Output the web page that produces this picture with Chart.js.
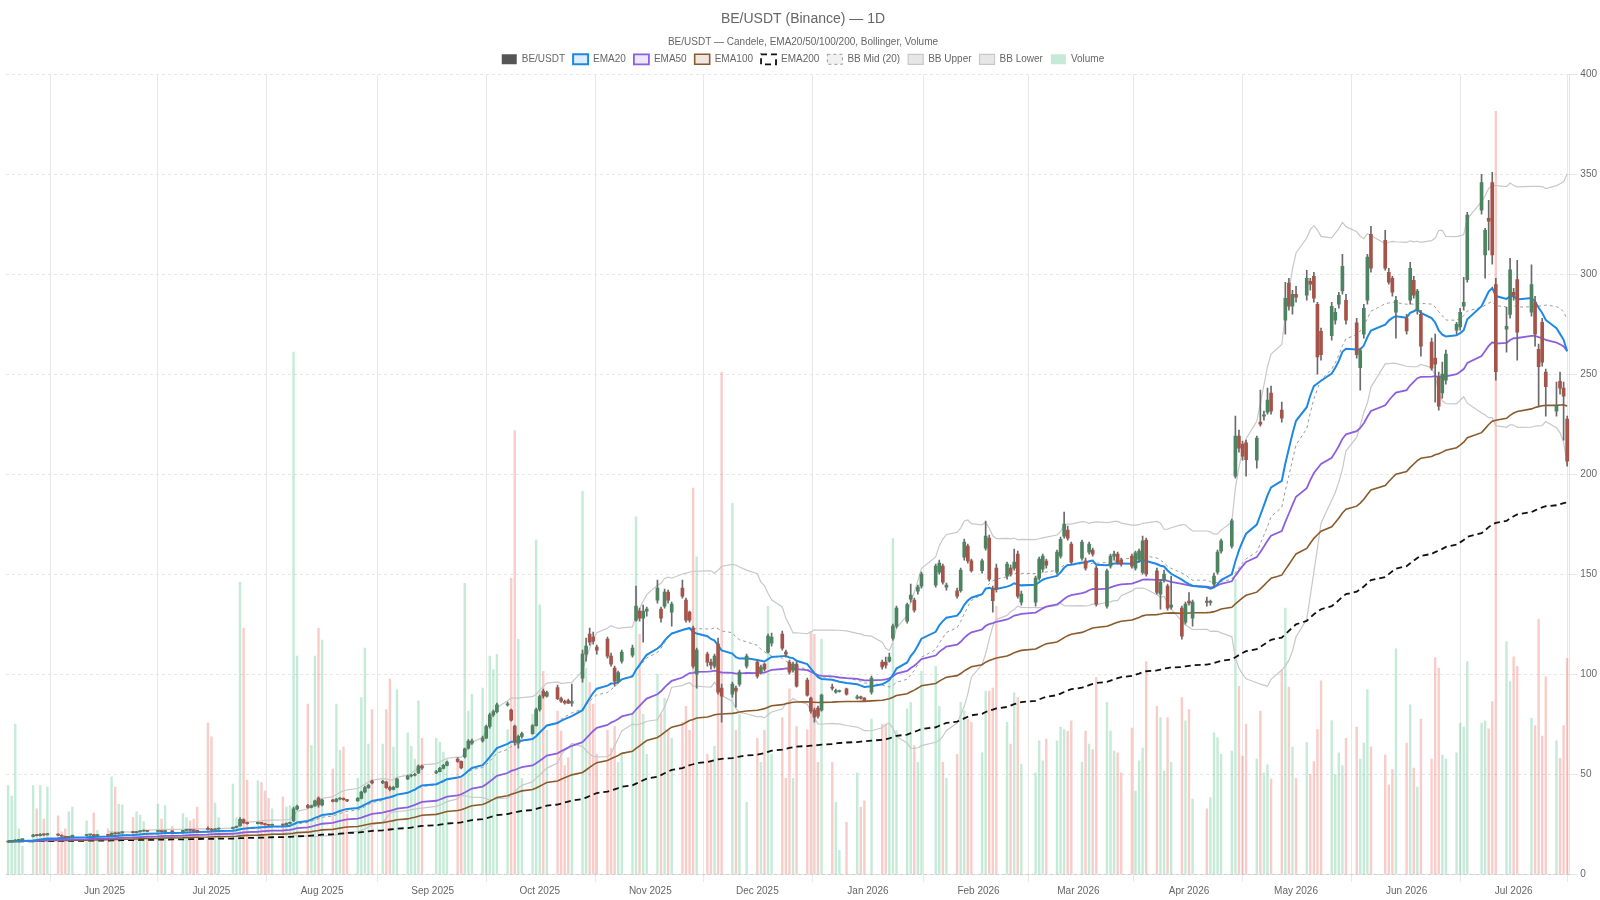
<!DOCTYPE html>
<html>
<head>
<meta charset="utf-8">
<title>BE/USDT (Binance) — 1D</title>
<script src="https://cdn.jsdelivr.net/npm/chart.js@4.4.1/dist/chart.umd.min.js"></script>
<style>
  html, body { margin: 0; padding: 0; background: #fff; }
  #wrap { width: 1600px; height: 900px; }
</style>
</head>
<body>
<div id="wrap"><canvas id="beChart"></canvas></div>
<script>
/* global Chart */
var firstDay = '2025-05-05';
var lastDay = '2026-07-16';
var holidays = ['2025-05-26', '2025-06-19', '2025-07-04', '2025-09-01', '2025-11-27', '2025-12-25',
    '2026-01-01', '2026-01-19', '2026-02-16', '2026-04-03', '2026-05-25', '2026-06-19', '2026-07-03'];
var monthTicks = ['2025-06-01', '2025-07-01', '2025-08-01', '2025-09-01', '2025-10-01', '2025-11-01',
    '2025-12-01', '2026-01-01', '2026-02-01', '2026-03-01', '2026-04-01', '2026-05-01', '2026-06-01', '2026-07-01'];
var monthNames = ['Jan', 'Feb', 'Mar', 'Apr', 'May', 'Jun', 'Jul', 'Aug', 'Sep', 'Oct', 'Nov', 'Dec'];

// one row per trading week
var open = [
    16.0, 16.3, 16.5, 16.9, 17.2,
    18.8, 19.6, 19.2, 19.9, 19.6,
    20.0, 19.4, 18.9, 18.4, 18.7,
    19.3, 19.6, 19.7, 19.2,
    19.5, 19.3, 20.4, 20.1, 20.6,
    21.0, 20.7, 21.1, 21.5, 21.8,
    21.3, 21.7, 21.2, 21.5,
    21.1, 21.8, 22.2, 21.9, 21.7,
    22.6, 22.3, 21.9, 22.5,
    22.8, 23.3, 24.0, 27.2, 25.7,
    25.2, 25.8, 25.1, 24.7, 24.4,
    24.8, 24.5, 25.3, 26.5, 32.6,
    34.2, 33.3, 34.1, 38.0, 34.5,
    37.0, 36.3, 37.5, 37.9, 37.2,
    36.6, 37.8, 41.0, 43.2, 46.5,
    45.6, 46.0, 43.2, 42.3, 43.4,
    47.5, 49.0, 49.4, 50.5, 54.0,
    50.6, 51.2, 52.8, 54.3,
    57.5, 56.3, 58.5, 63.0, 65.5,
    66.6, 68.0, 73.8, 79.6, 81.2,
    84.6, 82.0, 74.0, 65.5, 68.8,
    70.2, 74.2, 82.3, 91.5, 89.0,
    93.2, 87.7, 86.4, 86.8, 85.5,
    98.0, 110.0, 120.0, 118.5, 113.5,
    117.5, 109.0, 103.0, 96.5, 106.5,
    109.5, 127.0, 131.5, 128.0, 131.5,
    137.0, 132.5, 134.0, 141.0, 131.0,
    143.0, 137.0, 131.0, 123.0, 100.0,
    110.0, 106.0, 104.0, 115.0, 93.0,
    90.0, 93.0, 95.0, 104.0,
    106.0, 101.0, 105.0, 111.0, 115.5,
    120.0, 111.0, 106.0, 102.0, 105.0,
    97.0, 88.0, 82.0, 83.0, 82.0,
    93.5, 91.0, 91.3, 92.6,
    88.0, 88.6, 88.0, 91.0,
    106.0, 106.0, 106.5, 118.0, 124.0,
    126.5, 137.5, 137.0, 141.5, 144.0,
    144.5, 151.0, 154.0, 143.5,
    141.7, 141.7, 158.5, 164.0, 156.6,
    151.7, 163.0, 168.0, 142.5, 153.0,
    149.0, 153.0, 153.0, 160.0, 136.0,
    136.0, 148.0, 152.5, 156.5,
    151.0, 159.0, 169.0, 172.0, 165.0,
    158.0, 156.6, 161.0, 162.0, 153.0,
    134.0, 154.0, 159.0, 160.0, 157.0,
    159.0, 153.0, 157.4, 150.8, 167.0,
    151.6, 140.0, 147.0, 144.0, 133.5,
    133.0, 126.0, 136.5, 128.0,
    136.5, 135.8, 145.0, 151.0, 161.5,
    164.0, 199.0, 219.0, 215.0, 215.7,
    207.0, 226.0, 229.0, 231.0, 240.6,
    232.0, 277.0, 295.6, 284.0, 290.0,
    289.5, 296.5, 299.0, 285.0, 271.4,
    269.3, 277.0, 285.0, 291.6, 287.0,
    275.7, 253.3, 270.0, 287.0, 320.0,
    317.0, 301.0, 298.0, 281.0,
    278.0, 287.0, 297.0, 282.0, 280.0,
    266.0, 258.0, 249.0, 240.6, 247.0,
    272.0, 273.6, 284.0, 297.3,
    332.0, 309.7, 328.0, 345.8, 294.8,
    272.5, 279.9, 291.0, 297.3,
    281.0, 286.0, 262.4, 276.0, 251.0,
    231.5, 246.4, 243.0, 227.6
];
var high = [
    16.6, 16.7, 17.2, 17.4, 17.5,
    19.8, 19.9, 20.2, 20.1, 20.4,
    20.1, 19.6, 19.0, 18.9, 19.5,
    19.8, 19.9, 19.8, 19.7,
    19.6, 20.6, 20.7, 20.8, 21.2,
    21.2, 21.3, 21.7, 22.0, 21.9,
    21.9, 21.8, 21.7, 21.6,
    21.9, 22.4, 22.3, 22.0, 21.8,
    23.6, 22.8, 22.7, 23.0,
    23.5, 24.0, 28.2, 27.6, 26.0,
    26.0, 25.9, 25.3, 24.9, 25.0,
    25.0, 25.6, 26.0, 33.5, 34.5,
    34.8, 34.5, 37.0, 38.6, 37.5,
    37.4, 37.9, 38.2, 38.1, 37.4,
    38.2, 41.5, 43.8, 44.8, 47.0,
    46.8, 46.3, 44.0, 43.8, 48.0,
    49.5, 49.8, 50.3, 54.6, 54.5,
    51.8, 53.3, 54.8, 56.5,
    58.2, 56.6, 63.0, 67.2, 67.5,
    69.0, 74.5, 80.5, 82.0, 85.5,
    86.0, 82.5, 74.5, 69.5, 71.0,
    74.8, 83.0, 89.5, 92.5, 91.5,
    94.5, 88.5, 87.0, 87.5, 95.0,
    112.0, 118.0, 123.0, 121.0, 114.5,
    118.5, 110.5, 104.0, 101.5, 112.0,
    114.5, 144.0, 133.0, 134.5, 133.5,
    147.0, 133.5, 142.5, 142.0, 136.0,
    147.0, 138.0, 131.5, 124.0, 113.0,
    111.0, 107.5, 110.0, 118.0, 95.0,
    96.0, 94.0, 102.0, 110.0,
    107.0, 104.5, 105.5, 120.0, 120.5,
    121.5, 112.0, 107.0, 106.0, 106.0,
    98.0, 88.5, 83.0, 84.0, 90.0,
    95.0, 92.5, 92.0, 93.0,
    89.5, 89.0, 88.3, 99.0,
    107.0, 108.5, 110.5, 125.0, 134.0,
    135.5, 145.0, 138.0, 144.5, 151.0,
    155.0, 157.0, 155.0, 145.5,
    143.0, 153.0, 167.5, 165.0, 157.5,
    157.5, 176.5, 169.5, 144.0, 155.0,
    156.0, 154.5, 162.5, 161.5, 141.5,
    149.0, 158.5, 160.0, 157.5,
    162.0, 168.5, 181.0, 174.0, 166.0,
    167.0, 158.0, 166.0, 163.0, 154.0,
    152.5, 160.0, 161.5, 161.0, 158.0,
    160.0, 161.5, 162.5, 169.0, 168.0,
    153.0, 147.0, 152.0, 145.0, 149.0,
    134.0, 136.0, 140.8, 137.0,
    138.5, 137.0, 150.5, 162.0, 167.5,
    177.5, 229.0, 222.0, 216.5, 217.0,
    219.0, 242.0, 231.5, 243.0, 244.0,
    236.0, 296.0, 298.0, 292.0, 294.0,
    302.0, 298.0, 301.0, 286.0, 273.0,
    286.0, 283.0, 291.0, 310.0, 290.0,
    278.0, 263.0, 285.0, 310.0, 324.0,
    322.0, 303.0, 299.0, 289.0,
    280.0, 306.0, 299.0, 292.5, 282.0,
    268.0, 270.0, 251.0, 256.0, 262.0,
    276.0, 283.0, 298.5, 331.0,
    350.0, 323.0, 337.0, 351.0, 298.0,
    283.5, 308.0, 293.0, 307.0,
    304.7, 289.0, 265.0, 278.0, 252.5,
    246.0, 251.0, 246.0, 229.0
];
var low = [
    15.8, 16.0, 16.4, 16.7, 16.9,
    18.6, 19.0, 19.1, 19.3, 19.5,
    19.2, 18.7, 18.2, 18.2, 18.5,
    19.1, 19.3, 19.0, 19.0,
    19.0, 19.2, 19.9, 20.0, 20.4,
    20.5, 20.6, 21.0, 21.3, 21.1,
    21.2, 21.0, 21.0, 20.9,
    21.0, 21.6, 21.7, 21.5, 21.1,
    22.0, 21.6, 21.8, 22.3,
    22.6, 23.1, 23.9, 25.3, 24.9,
    25.0, 24.9, 24.4, 24.1, 24.3,
    24.2, 24.4, 25.1, 26.3, 32.0,
    32.8, 33.0, 33.8, 33.4, 34.0,
    36.0, 36.1, 37.0, 36.9, 36.2,
    36.4, 37.6, 40.6, 42.8, 45.0,
    45.2, 42.8, 41.5, 42.0, 43.2,
    47.2, 48.5, 49.0, 50.2, 52.3,
    50.2, 51.0, 52.5, 54.0,
    55.8, 52.5, 58.0, 62.5, 64.8,
    66.0, 67.8, 73.0, 78.8, 80.6,
    84.0, 76.5, 64.5, 63.0, 68.0,
    70.0, 74.0, 81.5, 88.0, 88.5,
    87.2, 85.8, 85.0, 85.2, 84.0,
    96.0, 106.5, 114.5, 115.0, 110.0,
    108.0, 104.0, 94.0, 95.5, 105.5,
    108.5, 126.5, 126.5, 116.0, 129.0,
    135.5, 126.0, 133.0, 135.5, 124.0,
    138.0, 126.0, 126.0, 103.0, 93.0,
    104.0, 102.5, 103.0, 90.0, 76.0,
    88.5, 83.5, 94.0, 103.0,
    98.0, 100.0, 101.5, 110.5, 114.0,
    112.0, 108.5, 100.0, 101.0, 93.5,
    89.0, 80.5, 76.0, 78.0, 81.5,
    92.0, 90.5, 91.0, 89.5,
    87.5, 87.5, 86.3, 90.0,
    102.5, 103.0, 106.0, 117.0, 123.0,
    125.5, 136.0, 131.0, 140.0, 143.0,
    143.5, 150.0, 145.0, 142.0,
    138.0, 141.0, 157.0, 155.5, 151.0,
    150.5, 162.0, 146.5, 131.0, 141.0,
    147.5, 149.0, 152.0, 138.0, 134.5,
    134.0, 147.0, 151.0, 153.0,
    150.0, 158.0, 168.0, 167.0, 155.0,
    157.0, 152.0, 160.0, 159.0, 134.0,
    133.0, 153.0, 157.0, 155.0, 154.0,
    153.0, 152.0, 156.0, 150.0, 149.0,
    140.0, 132.5, 146.0, 132.0, 132.5,
    117.5, 125.0, 134.5, 124.0,
    134.0, 134.5, 143.5, 150.0, 160.5,
    163.0, 198.0, 211.0, 207.0, 199.0,
    203.0, 224.0, 227.0, 230.0, 230.0,
    226.0, 270.0, 282.0, 280.0, 286.0,
    287.0, 292.0, 286.0, 250.0, 257.0,
    267.0, 275.0, 283.0, 290.0, 275.0,
    258.0, 242.0, 268.0, 285.0, 301.0,
    302.0, 295.0, 289.0, 268.0,
    270.0, 285.0, 288.0, 280.0, 259.0,
    252.0, 236.0, 232.0, 238.0, 245.0,
    270.0, 272.0, 282.0, 296.0,
    330.0, 298.0, 312.0, 305.0, 247.0,
    261.0, 278.0, 287.0, 257.0,
    279.0, 264.0, 234.0, 254.0, 229.0,
    229.0, 240.0, 217.0, 204.0
];
var close = [
    16.3, 16.5, 16.9, 17.2, 17.3,
    19.5, 19.2, 19.9, 19.6, 20.2,
    19.4, 18.9, 18.4, 18.7, 19.3,
    19.6, 19.7, 19.2, 19.5,
    19.3, 20.4, 20.1, 20.6, 21.0,
    20.7, 21.1, 21.5, 21.8, 21.3,
    21.7, 21.2, 21.5, 21.1,
    21.8, 22.2, 21.9, 21.7, 21.3,
    22.3, 21.9, 22.5, 22.8,
    23.3, 23.8, 27.4, 25.7, 25.2,
    25.8, 25.1, 24.7, 24.4, 24.8,
    24.5, 25.3, 25.8, 32.6, 33.9,
    33.3, 34.1, 36.6, 34.5, 37.0,
    36.3, 37.5, 37.9, 37.2, 36.6,
    37.8, 41.0, 43.2, 44.4, 45.6,
    46.3, 43.2, 42.3, 43.4, 47.5,
    49.0, 49.4, 49.9, 54.0, 53.0,
    51.2, 52.8, 54.3, 56.0,
    56.3, 53.0, 62.6, 66.5, 66.6,
    68.0, 73.8, 79.6, 81.2, 84.6,
    85.0, 77.0, 66.0, 68.8, 70.2,
    74.2, 82.3, 88.8, 89.0, 90.8,
    87.7, 86.4, 85.6, 85.5, 86.2,
    110.0, 114.0, 116.0, 116.5, 112.0,
    109.0, 105.0, 96.5, 100.8, 111.0,
    113.0, 134.0, 128.0, 131.5, 132.5,
    143.0, 128.0, 141.0, 137.0, 135.0,
    139.0, 127.0, 127.0, 104.0, 112.0,
    106.0, 104.5, 109.0, 91.0, 89.0,
    95.0, 91.5, 101.0, 109.0,
    99.0, 103.5, 102.5, 119.0, 118.5,
    113.0, 110.0, 101.0, 105.0, 94.0,
    89.5, 81.5, 78.5, 79.0, 89.5,
    93.0, 91.8, 91.7, 90.0,
    88.6, 88.0, 86.7, 98.0,
    103.6, 104.5, 108.5, 124.0, 133.0,
    134.8, 139.5, 132.0, 143.5, 150.0,
    154.0, 155.5, 146.0, 144.5,
    139.0, 152.0, 166.0, 156.6, 151.7,
    156.6, 169.0, 147.5, 136.7, 142.5,
    155.0, 150.0, 156.0, 139.0, 140.0,
    148.0, 157.5, 159.0, 154.5,
    161.0, 167.4, 175.0, 168.0, 156.0,
    166.0, 153.0, 165.0, 160.0, 135.0,
    151.7, 159.0, 160.0, 155.7, 155.0,
    154.0, 160.7, 161.5, 166.6, 150.0,
    140.8, 146.0, 150.0, 133.0, 134.5,
    119.0, 135.0, 135.5, 136.0,
    135.8, 136.4, 149.0, 161.0, 166.6,
    176.6, 219.0, 213.0, 209.0, 207.3,
    218.0, 225.0, 229.7, 237.0, 231.5,
    228.0, 288.0, 284.0, 290.0, 288.5,
    298.0, 295.0, 288.0, 258.6, 259.7,
    284.0, 281.0, 289.5, 304.0, 277.0,
    259.7, 261.8, 283.0, 308.6, 303.0,
    303.0, 296.0, 291.0, 287.0,
    271.6, 303.0, 289.5, 291.6, 264.0,
    253.0, 255.0, 234.0, 250.0, 260.0,
    275.0, 281.0, 286.0, 329.6,
    345.8, 322.0, 326.5, 309.7, 251.2,
    274.0, 302.2, 289.5, 271.0,
    294.8, 270.0, 253.7, 256.0, 243.8,
    234.0, 243.0, 239.0, 206.5
];
var volume = [
    11.1, 9.8, 18.8, 5.7, 3.5,
    11.1, 8.2, 11.1, 6.9, 10.9,
    7.3, 5.3, 5.7, 7.8, 8.4,
    6.7, 5.0, 7.7, 5.5,
    5.7, 12.2, 10.9, 8.8, 8.7,
    7.1, 7.8, 7.4, 6.6, 5.0,
    8.8, 6.9, 8.6, 6.0,
    7.6, 7.1, 6.7, 6.9, 8.4,
    18.9, 17.2, 8.9, 7.1,
    11.3, 7.1, 36.5, 30.8, 11.8,
    11.7, 11.5, 10.4, 9.5, 8.2,
    9.7, 8.4, 8.6, 65.3, 27.3,
    21.3, 16.1, 27.3, 30.8, 29.3,
    13.2, 21.3, 15.5, 15.9, 7.5,
    12.0, 22.1, 28.3, 16.3, 20.6,
    16.3, 20.6, 24.4, 15.9, 23.1,
    17.7, 16.0, 14.4, 21.7, 17.0,
    17.0, 16.5, 15.3, 14.4,
    14.4, 12.0, 36.4, 20.4, 22.5,
    23.3, 18.0, 27.3, 25.6, 27.5,
    18.1, 37.0, 55.5, 29.4, 12.0,
    20.0, 41.8, 33.7, 25.4, 18.0,
    20.4, 17.9, 13.6, 14.6, 16.0,
    47.9, 25.8, 24.0, 21.3, 15.0,
    18.0, 15.8, 18.5, 14.0, 15.0,
    20.0, 44.7, 30.0, 20.0, 15.0,
    25.0, 20.0, 22.0, 18.0, 17.0,
    19.0, 21.0, 18.0, 48.3, 39.7,
    15.0, 14.0, 16.0, 28.0, 62.8,
    46.4, 18.0, 20.0, 9.0,
    17.0, 14.0, 18.0, 33.5, 15.0,
    19.6, 12.0, 23.2, 12.0, 18.5,
    18.1, 30.2, 30.0, 14.0, 29.4,
    14.0, 9.0, 3.0, 6.5,
    12.7, 8.4, 9.2, 19.4,
    18.8, 18.8, 24.4, 42.0, 18.0,
    20.7, 21.5, 16.1, 14.0, 25.4,
    26.0, 21.0, 14.0, 12.0,
    15.0, 21.5, 20.4, 19.4, 19.0,
    15.2, 22.9, 22.9, 23.3, 33.5,
    19.0, 16.3, 22.7, 22.1, 13.8,
    12.7, 16.7, 14.2, 16.9,
    16.7, 18.4, 18.1, 17.9, 19.2,
    14.0, 17.9, 16.3, 15.6, 24.6,
    21.5, 17.9, 15.4, 15.2, 12.7,
    18.3, 10.4, 14.2, 15.8, 26.6,
    21.0, 19.6, 12.9, 19.6, 14.0,
    22.1, 19.2, 20.6, 9.4,
    8.2, 9.6, 17.7, 17.1, 15.0,
    15.4, 36.9, 23.5, 14.8, 18.8,
    14.4, 20.4, 12.7, 13.7, 11.9,
    25.5, 33.3, 23.4, 15.9, 12.0,
    16.5, 12.5, 14.1, 18.1, 24.2,
    19.2, 12.5, 15.2, 13.6, 17.0,
    18.4, 14.4, 16.4, 23.1, 15.9,
    14.9, 11.2, 13.1, 28.2,
    16.4, 21.2, 13.3, 10.9, 19.4,
    14.4, 27.1, 25.8, 14.9, 14.4,
    15.2, 18.9, 18.4, 26.6,
    18.9, 19.2, 18.2, 21.6, 95.4,
    29.1, 24.1, 27.2, 26.0,
    19.5, 18.6, 31.9, 17.3, 24.7,
    16.7, 14.5, 18.6, 27.0
];

var DAY = 86400000;
var t0 = Date.parse(firstDay);

function dayNum(s) {
    return (Date.parse(s) - t0) / DAY;
}

function tradingDays() {
    var out = [];
    for (var t = t0; t <= Date.parse(lastDay); t += DAY) {
        var d = new Date(t);
        var s = d.toISOString().slice(0, 10);
        if (d.getUTCDay() === 0 || d.getUTCDay() === 6 || holidays.indexOf(s) >= 0) continue;
        out.push(s);
    }
    return out;
}

function ema(src, n) {
    var k = 2 / (n + 1), prev, out = [];
    src.forEach(function(v, i) {
        prev = i === 0 ? v : v * k + prev * (1 - k);
        out.push(prev);
    });
    return out;
}

function bollinger(src, n, mult) {
    var mid = [], up = [], lo = [];
    src.forEach(function(v, i) {
        if (i < n - 1) { mid.push(null); up.push(null); lo.push(null); return; }
        var win = src.slice(i - n + 1, i + 1);
        var m = win.reduce(function(a, b) { return a + b; }, 0) / n;
        var sd = Math.sqrt(win.reduce(function(a, b) { return a + (b - m) * (b - m); }, 0) / n);
        mid.push(m); up.push(m + mult * sd); lo.push(m - mult * sd);
    });
    return {mid: mid, up: up, lo: lo};
}

var dates = tradingDays();
if (dates.length !== close.length) console.error('dates ' + dates.length + ' vs close ' + close.length);
var xs = dates.map(dayNum);

function series(arr) {
    return arr.map(function(v, i) { return {x: xs[i], y: v}; });
}

var isUp = close.map(function(c, i) { return c >= open[i]; });
var bb = bollinger(close, 20, 2);

function lineSet(label, values, color, fill, width, dash, order) {
    return {
        type: 'line', label: label, data: series(values), yAxisID: 'y',
        borderColor: color, backgroundColor: fill, borderWidth: width, borderDash: dash || [],
        pointRadius: 0, tension: 0, fill: false, order: order
    };
}

var ctx = document.getElementById('beChart').getContext('2d');
var config = {
    type: 'bar',
    data: {
        datasets: [
            {
                label: 'BE/USDT',
                data: open.map(function(o, i) { return {x: xs[i], y: [o, close[i]]}; }),
                yAxisID: 'y', grouped: false, barThickness: 3, minBarLength: 1,
                backgroundColor: function(c) {
                    return isUp[c.dataIndex] ? '#4c8461' : '#a6534a';
                },
                borderWidth: 0, order: 0
            },
            {
                label: '_wick',
                data: low.map(function(l, i) { return {x: xs[i], y: [l, high[i]]}; }),
                yAxisID: 'y', grouped: false, barThickness: 1,
                backgroundColor: '#6a6a6a', borderWidth: 0, order: 0.5
            },
            lineSet('EMA20', ema(close, 20), '#1e88e5', 'rgba(30,136,229,0.15)', 2, null, 1),
            lineSet('EMA50', ema(close, 50), '#8c5fe0', 'rgba(140,95,224,0.15)', 1.8, null, 2),
            lineSet('EMA100', ema(close, 100), '#8b5a2b', 'rgba(139,90,43,0.15)', 1.6, null, 3),
            lineSet('EMA200', ema(close, 200), '#111111', 'rgba(255,255,255,0)', 1.8, [6, 4], 4),
            lineSet('BB Mid (20)', bb.mid, '#9a9a9a', 'rgba(160,160,160,0.15)', 1, [3, 3], 5),
            lineSet('BB Upper', bb.up, '#c8c8c8', 'rgba(200,200,200,0.45)', 1.2, null, 6),
            lineSet('BB Lower', bb.lo, '#c8c8c8', 'rgba(200,200,200,0.45)', 1.2, null, 7),
            {
                label: 'Volume',
                data: series(volume),
                yAxisID: 'yv', grouped: false, barPercentage: 0.85, categoryPercentage: 0.8,
                backgroundColor: function(c) {
                    return isUp[c.dataIndex] ? 'rgba(46,184,114,0.28)' : 'rgba(231,76,60,0.28)';
                },
                borderWidth: 0, order: 8
            }
        ]
    },
    options: {
        responsive: true,
        maintainAspectRatio: false,
        animation: false,
        layout: { padding: { left: 6, right: 0, top: 0, bottom: 0 } },
        font: { family: 'Arial, "Liberation Sans", sans-serif' },
        plugins: {
            title: {
                display: true, text: 'BE/USDT (Binance) — 1D', color: '#666',
                font: { size: 14, weight: 'normal' }, padding: { top: 11, bottom: 4 }
            },
            subtitle: {
                display: true, text: 'BE/USDT — Candele, EMA20/50/100/200, Bollinger, Volume', color: '#666',
                font: { size: 10 }, padding: { top: 4, bottom: -1.5 }
            },
            legend: {
                labels: {
                    color: '#666', font: { size: 10 }, boxWidth: 15, boxHeight: 10, padding: 8,
                    filter: function(item) { return item.text !== '_wick'; },
                    generateLabels: function(chart) {
                        var items = Chart.defaults.plugins.legend.labels.generateLabels(chart);
                        items.forEach(function(item) {
                            if (item.text === 'BE/USDT') { item.fillStyle = '#555555'; item.strokeStyle = '#555555'; }
                            if (item.text === 'Volume') { item.fillStyle = 'rgba(46,184,114,0.28)'; }
                        });
                        return items;
                    }
                }
            },
            tooltip: { enabled: false }
        },
        scales: {
            x: {
                type: 'linear', offset: false,
                min: -0.6, max: xs[xs.length - 1] + 0.6,
                afterBuildTicks: function(axis) {
                    axis.ticks = monthTicks.map(function(s) { return {value: dayNum(s)}; });
                },
                ticks: {
                    autoSkip: false, maxRotation: 0, color: '#666', font: { size: 10 },
                    callback: function(value) {
                        var d = new Date(t0 + value * DAY);
                        return monthNames[d.getUTCMonth()] + ' ' + d.getUTCFullYear();
                    }
                },
                grid: { offset: true, color: '#e8e8e8' }
            },
            y: {
                position: 'right', min: 0, max: 400,
                ticks: { stepSize: 50, color: '#666', font: { size: 10 } },
                grid: { color: '#e6e6e6' },
                border: { dash: [3, 3] }
            },
            yv: { type: 'linear', display: false, min: 0, max: 100 }
        }
    }
};
var beChart = new Chart(ctx, config);
</script>
</body>
</html>
